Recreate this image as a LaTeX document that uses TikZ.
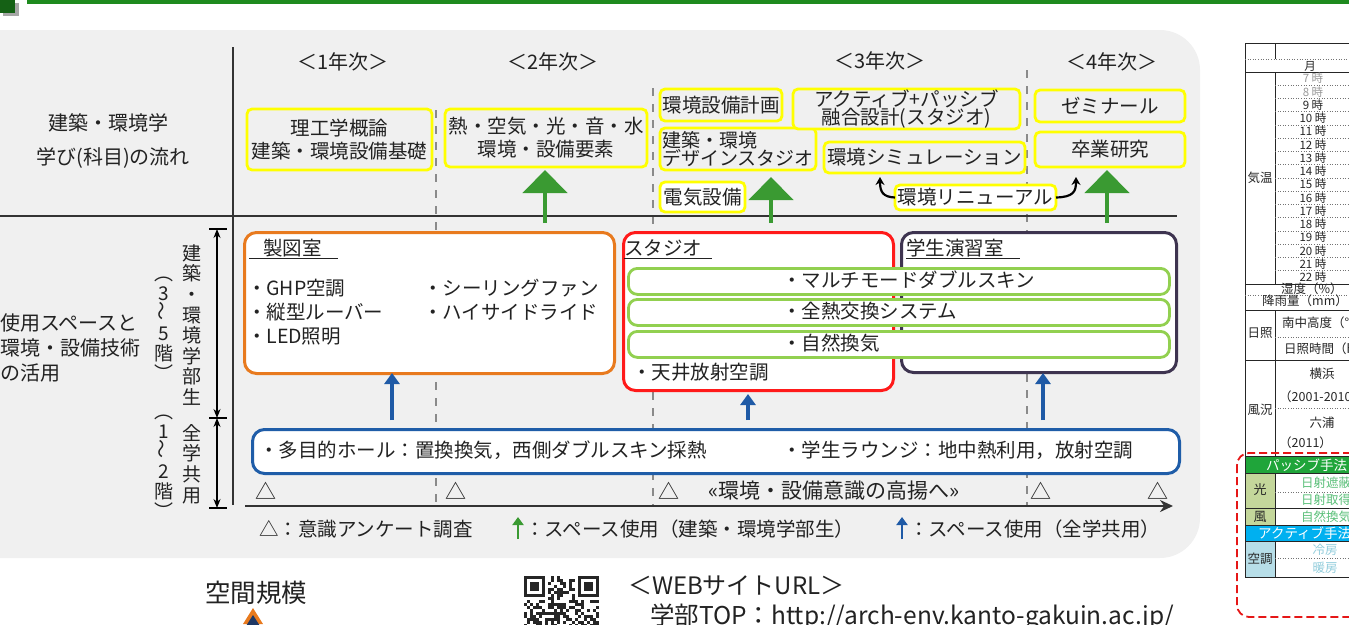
\documentclass[tikz,border=0pt]{standalone}
\usepackage{fontspec}
\setmainfont{Noto Sans CJK JP}
\usepackage{graphicx}
\usetikzlibrary{arrows.meta}
\definecolor{panelc}{HTML}{F0F0F0}
\definecolor{yelc}{HTML}{FFFF00}
\definecolor{garc}{HTML}{3A9A32}
\definecolor{barc}{HTML}{1F5AA6}
\definecolor{orc}{HTML}{E87A1E}
\definecolor{redc}{HTML}{FF1A1A}
\definecolor{purc}{HTML}{3E3450}
\definecolor{lgrc}{HTML}{92D050}
\definecolor{bluec}{HTML}{1F5DA8}
\definecolor{txtc}{HTML}{222222}
\definecolor{dashc}{HTML}{8A8A8A}
\definecolor{topgc}{HTML}{1E8A1E}
\definecolor{passc}{HTML}{1FA53A}
\definecolor{actc}{HTML}{00B0F0}
\definecolor{olivec}{HTML}{C4D79B}
\definecolor{lbluec}{HTML}{B7DEE8}
\definecolor{tgrc}{HTML}{5CC07A}
\definecolor{tblc}{HTML}{92CDDC}
\definecolor{navyc}{HTML}{1F3864}
\begin{document}
\begin{tikzpicture}[x=1pt,y=-1pt,
  base/.style={font=\fontsize{19.5}{23}\selectfont, text=txtc, inner sep=0pt, outer sep=0pt},
  ybx/.style={base, draw=yelc, line width=2.8pt, rounded corners=5pt, fill=panelc, align=center, anchor=north west},
  rm/.style={draw, line width=3pt, rounded corners=12pt, fill=white, inner sep=0pt, anchor=north west},
  gb/.style={draw=lgrc, line width=2.8pt, rounded corners=9pt, fill=white, inner sep=0pt, anchor=north west, minimum width=541pt, minimum height=26pt},
  lbl/.style={base, anchor=west},
  vt/.style={base, align=center, font=\fontsize{19}{20.6}\selectfont},
  dsh/.style={draw=dashc, line width=1.6pt, dash pattern=on 8pt off 8pt},
  garr/.style={draw=garc, line width=4.5pt, -{Triangle[width=44pt,length=23pt]}},
  barr/.style={draw=barc, line width=3.5pt, -{Triangle[width=15pt,length=11pt]}},
  axl/.style={draw=black!80, line width=2pt},
  tsm/.style={font=\fontsize{11.5}{12}\selectfont, inner sep=0pt, text=black!85},
  tmd/.style={tsm, font=\fontsize{12.5}{13}\selectfont},
  tln/.style={draw=black!85, line width=0.9pt},
  tdt/.style={draw=black!55, line width=0.6pt, dotted}
]
\useasboundingbox (0,0) rectangle (1349,624);
\clip (0,0) rectangle (1349,624);
% top bar
\fill[black!35] (3,3) rectangle (19,16);
\fill[topgc!70!black] (0,0) rectangle (15,13);
\fill[topgc] (27,0) rectangle (1349,4);
% panel
\path[fill=panelc, rounded corners=40pt] (-60,30) rectangle (1200,558);
% grid lines
\draw[dsh] (436,110) -- (436,505);
\draw[dsh] (653,88) -- (653,505);
\draw[dsh] (1027,70) -- (1027,505);
\draw[axl] (0,216) -- (1177,216);
\draw[axl] (233,47) -- (233,505);
% headers
\node[base, font=\fontsize{20}{23}\selectfont] (h1) at (343,62) {＜1年次＞};
\node[base, font=\fontsize{20}{23}\selectfont] (h2) at (553,62) {＜2年次＞};
\node[base, font=\fontsize{20}{23}\selectfont] (h3) at (880,61) {＜3年次＞};
\node[base, font=\fontsize{20}{23}\selectfont] (h4) at (1112,62) {＜4年次＞};
\node[base, font=\fontsize{20}{23}\selectfont] (lt1) at (108,123) {建築・環境学};
\node[base, font=\fontsize{20}{23}\selectfont] (lt2) at (113,158) {学び(科目)の流れ};
% yellow boxes
\node[ybx, minimum width=185pt, minimum height=61pt] (b1) at (247,109) {理工学概論\\建築・環境設備基礎};
\node[ybx, minimum width=202pt, minimum height=58pt] (b2) at (445,109) {熱・空気・光・音・水\\環境・設備要素};
\node[ybx, minimum width=122pt, minimum height=32pt] (b3) at (660,89) {環境設備計画};
\node[ybx, minimum width=156pt, minimum height=42pt, align=left, font=\fontsize{19}{17}\selectfont] (b4) at (660,128) {建築・環境\\デザインスタジオ};
\node[ybx, fill=white, minimum width=85pt, minimum height=30pt] (b5) at (660,182) {電気設備};
\node[ybx, minimum width=227pt, minimum height=40pt, font=\fontsize{19.5}{17.5}\selectfont] (b6) at (793,89) {アクティブ+パッシブ\\融合設計(スタジオ)};
\node[ybx, minimum width=201pt, minimum height=31pt] (b7) at (824,142) {環境シミュレーション};
\node[ybx, fill=white, minimum width=161pt, minimum height=25pt] (b8) at (895,185) {環境リニューアル};
\node[ybx, minimum width=150pt, minimum height=32pt] (b9) at (1035,90) {ゼミナール};
\node[ybx, minimum width=150pt, minimum height=35pt] (b10) at (1035,132) {卒業研究};
\coordinate (cl) at (880,177);
\coordinate (cr) at (1076,177);
\draw[black, line width=2.2pt, -{Stealth[length=8pt,width=9pt]}] (b8.west) .. controls (883,197) and (880,192) .. (cl);
\draw[black, line width=2.2pt, -{Stealth[length=8pt,width=9pt]}] (b8.east) .. controls (1073,197) and (1076,192) .. (cr);
% green arrows
\coordinate (ga1s) at (545,223); \coordinate (ga1e) at (545,170);
\coordinate (ga2s) at (771,223); \coordinate (ga2e) at (771,177);
\coordinate (ga3s) at (1107,223); \coordinate (ga3e) at (1107,170);
\draw[garr] (ga1s) -- (ga1e);
\draw[garr] (ga2s) -- (ga2e);
\draw[garr] (ga3s) -- (ga3e);
% left labels lower
\node[lbl, font=\fontsize{20}{23}\selectfont] (u1) at (0,323) {使用スペースと};
\node[lbl, font=\fontsize{20}{23}\selectfont] (u2) at (0,348) {環境・設備技術};
\node[lbl, font=\fontsize{20}{23}\selectfont] (u3) at (0,373) {の活用};
\node[vt] (va) at (192,325) {建\\築\\・\\環\\境\\学\\部\\生};
\node[vt] (vb) at (192,464) {全\\学\\共\\用};
\node[vt, font=\fontsize{19}{20}\selectfont] (vc) at (164,329) {︵\\3\\\rotatebox{90}{〜}\\5\\階\\︶};
\node[vt, font=\fontsize{19}{20}\selectfont] (vd) at (164,467) {︵\\1\\\rotatebox{90}{〜}\\2\\階\\︶};
\coordinate (d1) at (217,229); \coordinate (d2) at (217,418); \coordinate (d3) at (217,508);
\draw[black, line width=1.3pt, {Stealth[length=9pt,width=7pt]}-{Stealth[length=9pt,width=7pt]}] (d1) -- (d2);
\draw[black, line width=1.3pt, {Stealth[length=9pt,width=7pt]}-{Stealth[length=9pt,width=7pt]}] (d2) -- (d3);
\draw[black, line width=1.3pt] ([xshift=-8pt]d1) -- ([xshift=10pt]d1);
\draw[black, line width=1.3pt] ([xshift=-8pt]d2) -- ([xshift=10pt]d2);
\draw[black, line width=1.3pt] ([xshift=-8pt]d3) -- ([xshift=10pt]d3);
% rooms
\node[rm, draw=orc, minimum width=370pt, minimum height=141pt] (ro) at (243,231) {};
\node[rm, draw=redc, minimum width=270pt, minimum height=158pt] (rr) at (622,231) {};
\node[rm, draw=purc, minimum width=275pt, minimum height=140pt] (rp) at (900,231) {};
\node[lbl] (t1) at (249,249) {\underline{\hspace{14pt}製図室\hspace{16pt}}};
\node[lbl] (t2) at (624,249) {\underline{スタジオ\hspace{10pt}}};
\node[lbl] (t3) at (906,249) {\underline{学生演習室\hspace{16pt}}};
\node[lbl] (o1) at (247,288) {・GHP空調};
\node[lbl] (o2) at (247,312) {・縦型ルーバー};
\node[lbl] (o3) at (247,337) {・LED照明};
\node[lbl] (o4) at (423,288) {・シーリングファン};
\node[lbl] (o5) at (423,312) {・ハイサイドライド};
\node[lbl] (r1) at (632,372) {・天井放射空調};
\node[gb] (g1) at (627,267) {};
\node[gb] (g2) at (627,298) {};
\node[gb] (g3) at (627,330) {};
\node[lbl] (g1t) at (782,280) {・マルチモードダブルスキン};
\node[lbl] (g2t) at (782,311) {・全熱交換システム};
\node[lbl] (g3t) at (782,343) {・自然換気};
% blue box
\node[rm, draw=bluec, minimum width=927pt, minimum height=44pt] (bb) at (251,428) {};
\node[lbl] (bt1) at (259,450) {・多目的ホール：置換換気，西側ダブルスキン採熱};
\node[lbl] (bt2) at (782,450) {・学生ラウンジ：地中熱利用，放射空調};
\coordinate (ba1s) at (392,420); \coordinate (ba1e) at (392,373);
\coordinate (ba2s) at (748,420); \coordinate (ba2e) at (748,394);
\coordinate (ba3s) at (1043,420); \coordinate (ba3e) at (1043,373);
\draw[barr] (ba1s) -- (ba1e);
\draw[barr] (ba2s) -- (ba2e);
\draw[barr] (ba3s) -- (ba3e);
% survey marks
\node[base, font=\fontsize{21}{23}\selectfont] (s1) at (266,491) {△};
\node[base, font=\fontsize{21}{23}\selectfont] (s2) at (456,491) {△};
\node[base, font=\fontsize{21}{23}\selectfont] (s3) at (669,491) {△};
\node[base, font=\fontsize{21}{23}\selectfont] (s4) at (1041,491) {△};
\node[base, font=\fontsize{21}{23}\selectfont] (s5) at (1158,491) {△};
\node[base, font=\fontsize{21}{23}\selectfont] (s6) at (834,491) {«環境・設備意識の高揚へ»};
\coordinate (ax1) at (245,506); \coordinate (ax2) at (1173,506);
\draw[axl, -{Stealth[length=13pt,width=12pt]}] (ax1) -- (ax2);
% legend
\node[lbl] (lg1) at (259,529) {△：意識アンケート調査};
\coordinate (la1) at (518,539); \coordinate (la2) at (518,517);
\draw[draw=garc, line width=2.8pt, -{Triangle[width=11pt,length=8pt]}] (la1) -- (la2);
\node[lbl] (lg2) at (525,529) {：スペース使用（建築・環境学部生）};
\coordinate (lb1) at (902,539); \coordinate (lb2) at (902,517);
\draw[draw=barc, line width=2.8pt, -{Triangle[width=11pt,length=8pt]}] (lb1) -- (lb2);
\node[lbl] (lg3) at (909,529) {：スペース使用（全学共用）};
% bottom
\node[base, font=\fontsize{25.5}{28}\selectfont] (kk) at (256,593) {空間規模};
\fill[orc] (253,608) -- (263,624) -- (243,624) -- cycle;
\fill[navyc] (253,615) -- (272,645) -- (234,645) -- cycle;
\begin{scope}[shift={(524,576)}]
  \pgfmathsetseed{12}
  \foreach \i in {0,...,24}{\foreach \j in {0,...,16}{
    \pgfmathtruncatemacro\rr{rnd*2}
    \ifnum\rr=1 \fill[black!85] (\i*3,\j*3) rectangle ++(3,3);\fi
  }}
  \foreach \fx in {0,54}{
    \fill[white] (\fx-3,0) rectangle ++(27,24);
    \fill[black!85] (\fx,0) rectangle ++(21,21);
    \fill[white] (\fx+3,3) rectangle ++(15,15);
    \fill[black!85] (\fx+6,6) rectangle ++(9,9);
  }
\end{scope}
\node[lbl, font=\fontsize{24}{26}\selectfont] (w1) at (628,586) {＜WEBサイトURL＞};
\node[lbl, font=\fontsize{24.5}{26}\selectfont] (w2) at (650,617) {学部TOP：http://arch-env.kanto-gakuin.ac.jp/};
% table
\fill[passc] (1245,456) rectangle (1360,473);
\fill[actc] (1245,525) rectangle (1360,541);
\fill[olivec] (1245,473) rectangle (1275,525);
\fill[lbluec] (1245,541) rectangle (1275,577);
\fill[white] (1245,43) rectangle (1360,456);
\fill[white] (1275,473) rectangle (1360,525);
\fill[white] (1275,541) rectangle (1360,577);
\draw[tln] (1245,43) rectangle (1360,577);
\draw[tln] (1275,43) -- (1275,59);
\draw[tdt] (1245,59) -- (1360,59);
\draw[tln] (1245,72) -- (1360,72);
\draw[tln] (1275,72) -- (1275,284);
\foreach \h [count=\k from 0] in {7,...,22}{
  \pgfmathsetmacro\yy{72+13.25*\k+6.6}
  \pgfmathsetmacro\yb{72+13.25*(\k+1)}
  \ifnum\h<9 \def\tcol{black!40}\else\def\tcol{black!85}\fi
  \node[tsm, text=\tcol] (tm\h) at (1313,\yy) {\h\ 時};
  \draw[tdt] (1275,\yb) -- (1360,\yb);
}
\draw[tln] (1245,284) -- (1360,284);
\draw[tdt] (1245,295) -- (1360,295);
\draw[tln] (1245,310) -- (1360,310);
\draw[tln] (1275,310) -- (1275,456);
\draw[tdt] (1275,337) -- (1360,337);
\draw[tln] (1245,360) -- (1360,360);
\draw[tdt] (1275,408) -- (1360,408);
\draw[tln] (1245,456) -- (1360,456);
\draw[tln] (1245,473) -- (1360,473);
\draw[tln] (1275,473) -- (1275,525);
\draw[tdt] (1275,492) -- (1360,492);
\draw[tln] (1245,508) -- (1360,508);
\draw[tln] (1245,525) -- (1360,525);
\draw[tln] (1245,541) -- (1360,541);
\draw[tln] (1275,541) -- (1275,577);
\draw[tdt] (1275,558) -- (1360,558);
\node[tsm] (mo) at (1310,66) {月};
\node[tmd] (kion) at (1260,178) {気温};
\node[tmd, anchor=west] (shitsu) at (1281,289) {湿度（\%）};
\node[tmd, anchor=west] (kou) at (1262,301) {降雨量（mm）};
\node[tmd] (nissho) at (1260,333) {日照};
\node[tmd, anchor=west] (nan) at (1282,323) {南中高度（°）};
\node[tmd, anchor=west] (nj) at (1284,349) {日照時間（h）};
\node[tmd] (fk) at (1260,410) {風況};
\node[tmd] (yh) at (1322,374) {横浜};
\node[tmd, anchor=west] (yh2) at (1279,397) {（2001-2010）};
\node[tmd] (mu) at (1322,423) {六浦};
\node[tmd, anchor=west] (mu2) at (1279,443) {（2011）};
\node[tmd, anchor=west, text=white, font=\fontsize{13.5}{14}\selectfont] (pas) at (1266,465) {パッシブ手法};
\node[tmd, font=\fontsize{13}{14}\selectfont] (hk) at (1260,490) {光};
\node[tmd, font=\fontsize{13}{14}\selectfont] (kz) at (1260,517) {風};
\node[tmd, anchor=west, text=tgrc] (n1) at (1301,483) {日射遮蔽};
\node[tmd, anchor=west, text=tgrc] (n2) at (1301,500) {日射取得};
\node[tmd, anchor=west, text=tgrc] (n3) at (1301,517) {自然換気};
\node[tmd, anchor=west, text=white, font=\fontsize{13.5}{14}\selectfont] (act) at (1258,533) {アクティブ手法};
\node[tmd] (ku) at (1260,559) {空調};
\node[tmd, text=tblc] (re) at (1325,550) {冷房};
\node[tmd, text=tblc] (da) at (1325,568) {暖房};
\draw[draw=redc!90!black, line width=1.8pt, dash pattern=on 8pt off 4pt, rounded corners=12pt] (1237,453) rectangle (1420,617);
\end{tikzpicture}
\end{document}
